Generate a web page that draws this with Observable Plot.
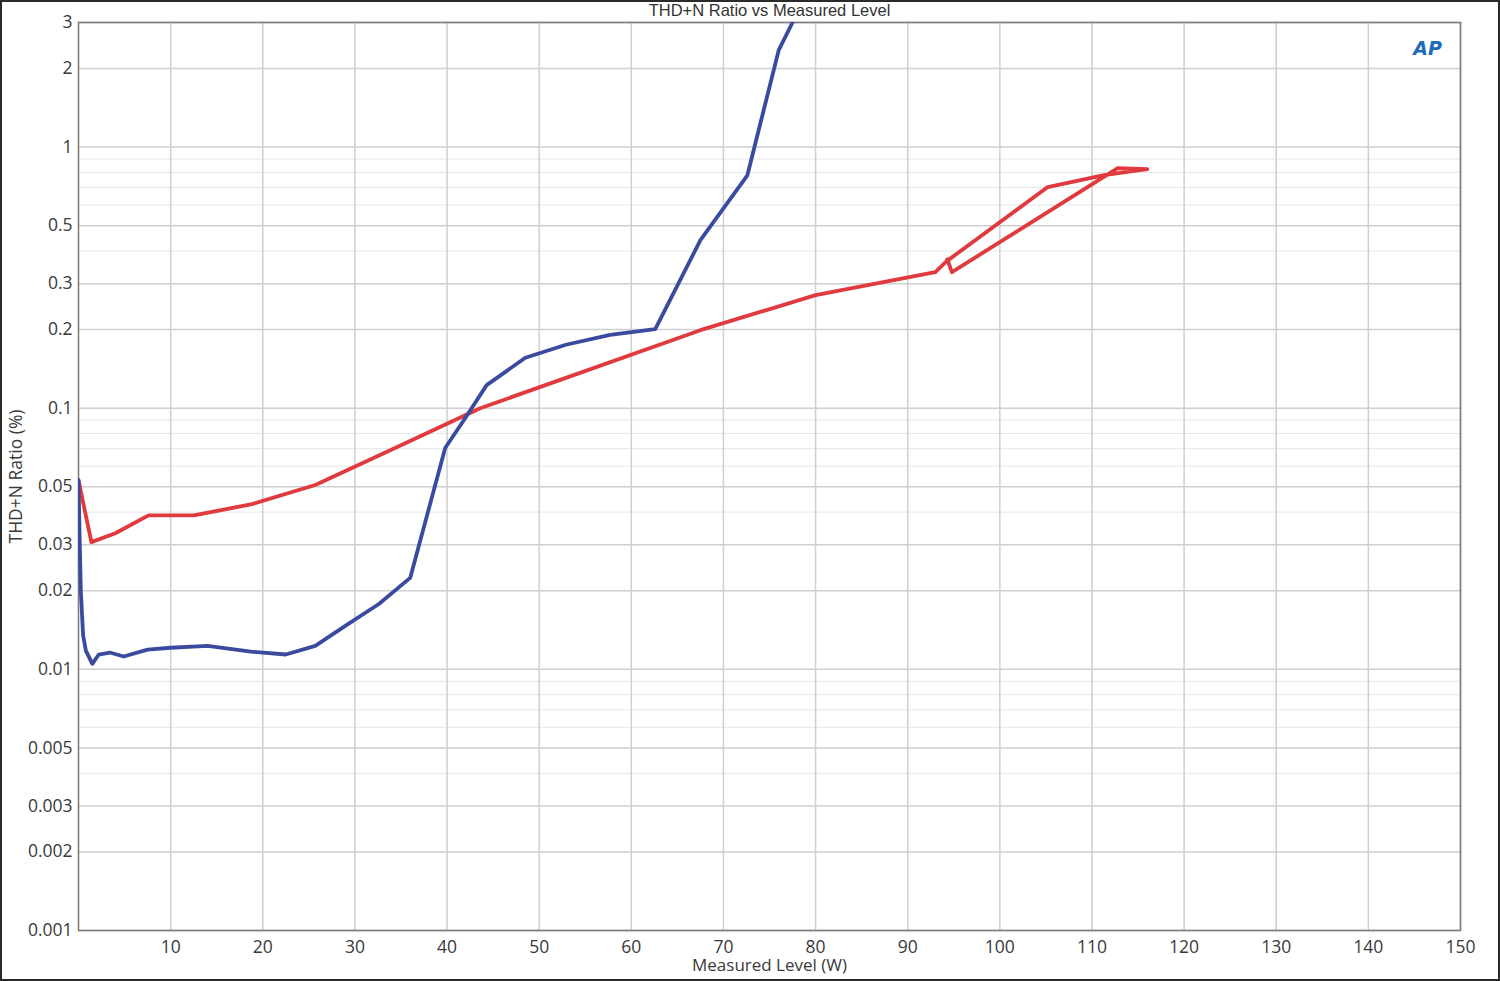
<!DOCTYPE html>
<html>
<head>
<meta charset="utf-8">
<script src="https://cdn.jsdelivr.net/npm/d3@7"></script>
<script src="https://cdn.jsdelivr.net/npm/@observablehq/plot@0.6"></script>
<style>
  html, body { margin: 0; padding: 0; background: #fff; }
  #wrap { position: relative; width: 1500px; height: 981px; overflow: hidden; }
  #border { position: absolute; left: 0; top: 0; width: 1500px; height: 981px; box-sizing: border-box; border: 2px solid #2a2a2a; pointer-events: none; }
</style>
</head>
<body>
<div id="wrap"><div id="chart"></div><div id="border"></div></div>
<script>
// ---- Data ----
const title = "THD+N Ratio vs Measured Level";
const xLabel = "Measured Level (W)";
const yLabel = "THD+N Ratio (%)";

const xTicks = [10, 20, 30, 40, 50, 60, 70, 80, 90, 100, 110, 120, 130, 140, 150];
const yTicks = [0.001, 0.002, 0.003, 0.005, 0.01, 0.02, 0.03, 0.05, 0.1, 0.2, 0.3, 0.5, 1, 2, 3];
const yTickLabels = ["0.001", "0.002", "0.003", "0.005", "0.01", "0.02", "0.03", "0.05", "0.1", "0.2", "0.3", "0.5", "1", "2", "3"];
const yMinor = [0.004, 0.006, 0.007, 0.008, 0.009,
                0.04, 0.06, 0.07, 0.08, 0.09,
                0.4, 0.6, 0.7, 0.8, 0.9];

// Blue channel
const blueX = [0, 0.1, 0.25, 0.5, 0.8, 1.5, 2.2, 3.4, 4.9, 7.5, 10, 14, 18.7, 22.5, 25.7, 29, 32.6, 36, 39.8, 42, 44.3, 48.5, 52.9, 57.7, 62.6, 67.5, 72.6, 76, 77.5];
const blueY = [0.053, 0.035, 0.02, 0.0135, 0.0118, 0.0105, 0.0114, 0.0116, 0.0112, 0.0119, 0.0121, 0.0123, 0.0117, 0.0114, 0.0123, 0.0147, 0.0178, 0.0224, 0.0704, 0.092, 0.1226, 0.156, 0.175, 0.191, 0.201, 0.44, 0.78, 2.35, 3.0];

// Red channel
const redX = [0, 1.4, 4.0, 7.6, 12.5, 18.7, 25.7, 35, 43.6, 67.5, 80, 93, 94.2, 105.2, 111.3, 116.0, 112.8, 94.8, 94.3];
const redY = [0.053, 0.0307, 0.0332, 0.0389, 0.0389, 0.0428, 0.0508, 0.0721, 0.1, 0.199, 0.271, 0.332, 0.365, 0.703, 0.781, 0.824, 0.831, 0.332, 0.372];

const blue = blueX.map((x, i) => ({x, y: blueY[i]}));
const red = redX.map((x, i) => ({x, y: redY[i]}));
const yLab = yTicks.map((v, i) => ({v, t: yTickLabels[i]}));

const font = "'Open Sans', 'Noto Sans', sans-serif";

const chart = Plot.plot({
  width: 1500,
  height: 981,
  marginLeft: 78,
  marginRight: 40,
  marginTop: 22,
  marginBottom: 51,
  style: { fontFamily: font, fontSize: "17px", color: "#333", background: "transparent" },
  x: { domain: [0, 150], label: null, axis: null },
  y: { type: "log", domain: [0.001, 3], label: null, axis: null },
  marks: [
    Plot.ruleY(yMinor, { stroke: "#e6e6e6", strokeWidth: 1 }),
    Plot.ruleY(yTicks, { stroke: "#cfcfcf", strokeWidth: 1.5 }),
    Plot.ruleX(xTicks, { stroke: "#cfcfcf", strokeWidth: 1.5 }),
    Plot.frame({ stroke: "#7d7d7d", strokeWidth: 1.6 }),
    Plot.text(xTicks, { x: d => d, text: d => String(d), frameAnchor: "bottom", lineAnchor: "middle", dy: 17, fontSize: 17.5, fill: "#3a3a3a" }),
    Plot.text(yLab, { y: "v", text: "t", frameAnchor: "left", textAnchor: "end", lineAnchor: "middle", dx: -6, fontSize: 17.5, fill: "#3a3a3a" }),
    Plot.line(red, { x: "x", y: "y", stroke: "#e0393e", strokeWidth: 3.8, strokeLinejoin: "round", clip: true }),
    Plot.line(blue, { x: "x", y: "y", stroke: "#3a4a9f", strokeWidth: 3.8, strokeLinejoin: "round", clip: true }),
    Plot.text([title], { text: d => d, frameAnchor: "top", lineAnchor: "middle", dy: -12, fontSize: 16.5, fill: "#333", fontFamily: "'Liberation Sans', Arial, sans-serif" }),
    Plot.text([xLabel], { text: d => d, frameAnchor: "bottom", lineAnchor: "middle", dy: 35, fontSize: 17, fill: "#3a3a3a" }),
    Plot.text([yLabel], { text: d => d, frameAnchor: "left", textAnchor: "middle", lineAnchor: "middle", dx: -62, rotate: -90, fontSize: 17.5, fill: "#3a3a3a" }),
    Plot.text(["AP"], { text: d => d, frameAnchor: "top-right", textAnchor: "middle", lineAnchor: "middle", dx: -33, dy: 26, fontSize: 19, fontWeight: "bold", fontStyle: "italic", fill: "#1c6cb6", fontFamily: "'DejaVu Sans', sans-serif" })
  ]
});
document.getElementById("chart").appendChild(chart);
</script>
</body>
</html>
